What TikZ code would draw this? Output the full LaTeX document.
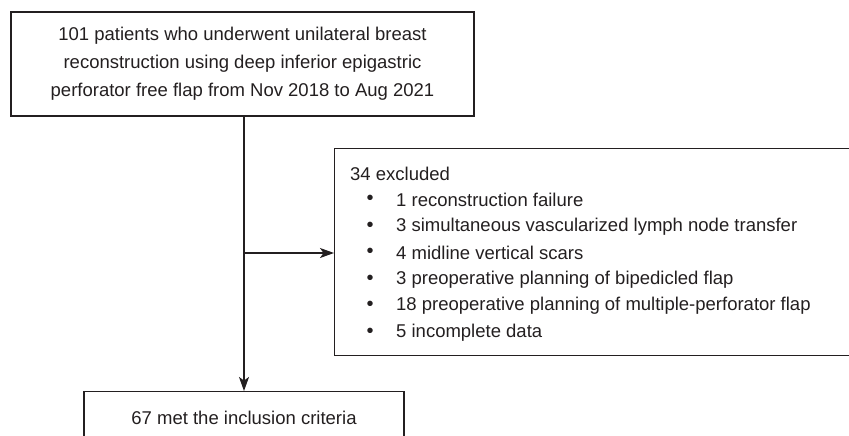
\documentclass[tikz,border=0pt]{standalone}
\usepackage{fontspec}
\setmainfont{Liberation Sans}
\usetikzlibrary{arrows.meta}
\definecolor{ink}{HTML}{231F20}
\begin{document}
\begin{tikzpicture}[x=1pt,y=-1pt,
  box/.style={draw=ink, line width=1.3pt, inner sep=0pt},
  conn/.style={draw=ink, line width=1.3pt},
  tip/.style={-{Stealth[length=14pt,width=10pt,inset=3.5pt]}},
  txt/.style={font=\fontsize{18.5}{28}\selectfont, text=ink, inner sep=0pt},
  item/.style={txt, anchor=west},
  dot/.style={txt, font=\fontsize{20}{20}\selectfont}]
\useasboundingbox (0,0) rectangle (849,436);
\clip (0,0) rectangle (849,436);
\node[box, txt, align=center, minimum width=463pt, minimum height=104pt] (top) at (242.5,64)
  {101 patients who underwent unilateral breast\\reconstruction using deep inferior epigastric\\perforator free flap from Nov 2018 to Aug 2021};
\node[box, anchor=north west, minimum width=560pt, minimum height=207pt] (excl) at (334,148) {};
\node[item] (h) at (350,173.5) {34 excluded};
\foreach \i/\t in {1/1 reconstruction failure,
                   2/3 simultaneous vascularized lymph node transfer,
                   3/4 midline vertical scars,
                   4/3 preoperative planning of bipedicled flap,
                   5/18 preoperative planning of multiple-perforator flap,
                   6/5 incomplete data}{
  \node[dot] (b\i) at (370,173.5+26.5*\i) {\textbullet};
  \node[item] (t\i) at (396,173.5+26.5*\i) {\t};
}
\node[box, txt, anchor=north, minimum width=320pt, minimum height=52pt] (incl) at (244,391)
  {67 met the inclusion criteria};
\coordinate (j) at (244,253);
\draw[conn, tip] (top.south -| incl.north) -- (incl.north);
\draw[conn, tip] (j) -- (j -| excl.west);
\end{tikzpicture}
\end{document}
